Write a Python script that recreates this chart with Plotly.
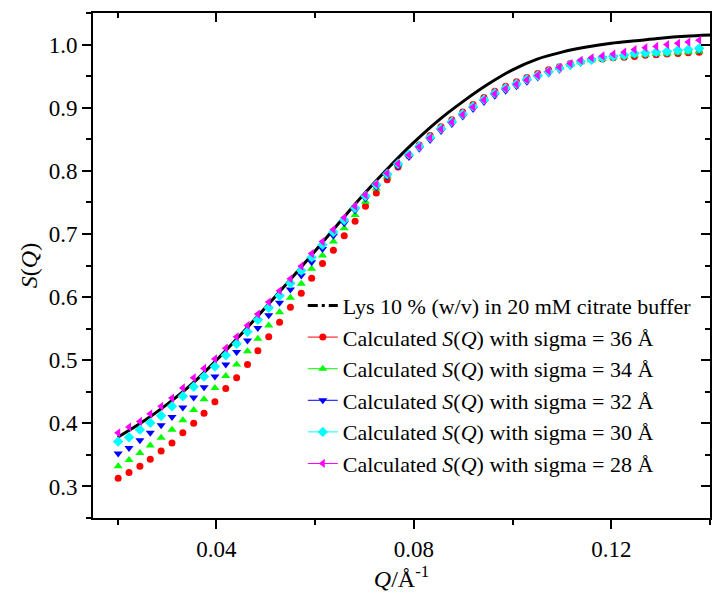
import plotly.graph_objects as go

# ---------------- data ----------------
q_exp = [0.020, 0.025, 0.030, 0.035, 0.040, 0.045, 0.050, 0.055, 0.060, 0.065,
         0.070, 0.075, 0.080, 0.085, 0.090, 0.095, 0.100, 0.105, 0.110, 0.115,
         0.120, 0.125, 0.130, 0.135, 0.140]
s_exp = [0.378, 0.402, 0.430, 0.462, 0.500, 0.541, 0.584, 0.628, 0.673, 0.719,
         0.764, 0.806, 0.845, 0.880, 0.910, 0.937, 0.960, 0.977, 0.988, 0.996,
         1.002, 1.006, 1.010, 1.013, 1.015]

q_calc = [0.0201, 0.0223, 0.0245, 0.0266, 0.0288, 0.0310, 0.0332, 0.0354, 0.0375, 0.0397,
          0.0419, 0.0441, 0.0463, 0.0484, 0.0506, 0.0528, 0.0550, 0.0572, 0.0593, 0.0615,
          0.0637, 0.0659, 0.0681, 0.0702, 0.0724, 0.0746, 0.0768, 0.0790, 0.0811, 0.0833,
          0.0855, 0.0877, 0.0899, 0.0920, 0.0942, 0.0964, 0.0986, 0.1008, 0.1029, 0.1051,
          0.1073, 0.1095, 0.1117, 0.1138, 0.1160, 0.1182, 0.1204, 0.1226, 0.1247, 0.1269,
          0.1291, 0.1313, 0.1335, 0.1356, 0.1378]

s_sigma36 = [0.313, 0.322, 0.332, 0.343, 0.356, 0.369, 0.385, 0.400, 0.416, 0.434,
             0.455, 0.472, 0.493, 0.515, 0.537, 0.560, 0.584, 0.606, 0.630, 0.653,
             0.674, 0.697, 0.720, 0.744, 0.765, 0.786, 0.806, 0.824, 0.841, 0.856,
             0.870, 0.881, 0.893, 0.905, 0.916, 0.926, 0.934, 0.941, 0.948, 0.954,
             0.960, 0.965, 0.970, 0.973, 0.976, 0.977, 0.979, 0.980, 0.981, 0.983,
             0.984, 0.985, 0.986, 0.987, 0.988]
s_sigma34 = [0.332, 0.342, 0.353, 0.365, 0.377, 0.390, 0.405, 0.421, 0.438, 0.456,
             0.475, 0.493, 0.514, 0.534, 0.555, 0.576, 0.599, 0.621, 0.645, 0.666,
             0.688, 0.709, 0.730, 0.751, 0.772, 0.791, 0.809, 0.825, 0.840, 0.854,
             0.868, 0.879, 0.891, 0.903, 0.914, 0.924, 0.932, 0.939, 0.946, 0.952,
             0.958, 0.963, 0.968, 0.972, 0.975, 0.977, 0.980, 0.981, 0.983, 0.984,
             0.985, 0.986, 0.987, 0.988, 0.989]
s_sigma32 = [0.352, 0.361, 0.373, 0.385, 0.397, 0.410, 0.425, 0.441, 0.457, 0.474,
             0.493, 0.513, 0.531, 0.551, 0.571, 0.591, 0.612, 0.634, 0.655, 0.676,
             0.697, 0.717, 0.737, 0.756, 0.774, 0.791, 0.807, 0.822, 0.835, 0.849,
             0.863, 0.874, 0.886, 0.898, 0.909, 0.919, 0.927, 0.934, 0.941, 0.948,
             0.954, 0.960, 0.966, 0.971, 0.975, 0.978, 0.980, 0.982, 0.984, 0.985,
             0.986, 0.987, 0.989, 0.990, 0.991]
s_sigma30 = [0.371, 0.378, 0.390, 0.401, 0.412, 0.427, 0.443, 0.458, 0.474, 0.490,
             0.508, 0.526, 0.545, 0.564, 0.583, 0.602, 0.622, 0.642, 0.663, 0.683,
             0.703, 0.722, 0.741, 0.760, 0.778, 0.795, 0.811, 0.826, 0.839, 0.853,
             0.867, 0.878, 0.890, 0.902, 0.913, 0.923, 0.931, 0.938, 0.945, 0.951,
             0.957, 0.963, 0.968, 0.973, 0.976, 0.979, 0.981, 0.983, 0.986, 0.987,
             0.988, 0.989, 0.991, 0.992, 0.994]
s_sigma28 = [0.385, 0.394, 0.403, 0.415, 0.427, 0.440, 0.456, 0.472, 0.487, 0.502,
             0.519, 0.537, 0.555, 0.573, 0.592, 0.610, 0.629, 0.649, 0.669, 0.688,
             0.707, 0.726, 0.744, 0.762, 0.779, 0.796, 0.811, 0.825, 0.838, 0.852,
             0.866, 0.877, 0.889, 0.901, 0.912, 0.922, 0.930, 0.937, 0.944, 0.951,
             0.958, 0.964, 0.970, 0.975, 0.979, 0.982, 0.985, 0.988, 0.992, 0.995,
             0.997, 1.000, 1.002, 1.004, 1.007]

sigma_labels = ["36", "34", "32", "30", "28"]
exp_label = "Lys 10 % (w/v) in 20 mM citrate buffer"

# ---------------- figure ----------------
FONT = "Liberation Serif"
series = [
    (sigma_labels[0], s_sigma36, "#FF0000", "circle", 7),
    (sigma_labels[1], s_sigma34, "#00FF00", "triangle-up", 8),
    (sigma_labels[2], s_sigma32, "#0000FF", "triangle-down", 8),
    (sigma_labels[3], s_sigma30, "#00FFFF", "diamond", 8),
    (sigma_labels[4], s_sigma28, "#FF00FF", "triangle-left", 8),
]

fig = go.Figure()
fig.add_trace(go.Scatter(x=q_exp, y=s_exp, mode="lines",
                         line=dict(color="black", width=3, shape="spline"),
                         showlegend=False, hoverinfo="skip"))
for lab, vals, col, sym, sz in series:
    fig.add_trace(go.Scatter(x=q_calc, y=vals, mode="markers",
                             marker=dict(symbol=sym, color=col, size=sz, line=dict(width=0)),
                             showlegend=False))

# legend entries
fig.add_trace(go.Scatter(x=[None], y=[None], mode="lines", name=exp_label,
                         line=dict(color="black", width=3, dash="10px,4px,3px,4px,10px,30px")))
for lab, vals, col, sym, sz in series:
    fig.add_trace(go.Scatter(x=[None], y=[None], mode="lines+markers",
                             name=f"Calculated <i>S</i>(<i>Q</i>) with sigma = {lab} Å",
                             line=dict(color=col, width=1),
                             marker=dict(symbol=sym, color=col, size=sz, line=dict(width=0))))

# dummy trace for mirrored (inward) ticks on top / right
fig.add_trace(go.Scatter(x=[None], y=[None], xaxis="x2", yaxis="y2",
                         showlegend=False, hoverinfo="skip"))

xr = [0.015, 0.14]
yr = [0.25, 1.05]
tickfont = dict(family=FONT, size=23, color="black")

fig.update_layout(
    width=713, height=603,
    margin=dict(l=93, r=1, t=13, b=85),
    paper_bgcolor="white", plot_bgcolor="white",
    font=dict(family=FONT, size=23, color="black"),
    xaxis=dict(range=xr, tick0=0, dtick=0.04, ticks="outside", ticklen=9, tickwidth=2,
               tickcolor="black", showline=True, linewidth=2, linecolor="black", mirror=True,
               showgrid=False, zeroline=False, tickfont=tickfont,
               minor=dict(tick0=0, dtick=0.02, ticks="outside", ticklen=5, tickwidth=2,
                          tickcolor="black", showgrid=False),
               title=dict(text="<i>Q</i>/Å<sup>-1</sup>", font=dict(family=FONT, size=24),
                          standoff=10)),
    yaxis=dict(range=yr, tick0=0, dtick=0.1, tickformat=".1f", ticks="outside", ticklen=9,
               tickwidth=2, tickcolor="black", showline=True, linewidth=2, linecolor="black",
               mirror=True, showgrid=False, zeroline=False, tickfont=tickfont,
               minor=dict(tick0=0, dtick=0.05, ticks="outside", ticklen=5, tickwidth=2,
                          tickcolor="black", showgrid=False),
               title=dict(text="<i>S</i>(<i>Q</i>)", font=dict(family=FONT, size=24),
                          standoff=4)),
    xaxis2=dict(range=xr, overlaying="x", side="top", anchor="y2", tick0=0, dtick=0.04,
                ticks="inside", ticklen=9, tickwidth=2, tickcolor="black",
                showticklabels=False, showline=False, showgrid=False, zeroline=False,
                minor=dict(tick0=0, dtick=0.02, ticks="inside", ticklen=5, tickwidth=2,
                           tickcolor="black", showgrid=False)),
    yaxis2=dict(range=yr, overlaying="y", side="right", anchor="x2", tick0=0, dtick=0.1,
                ticks="inside", ticklen=9, tickwidth=2, tickcolor="black",
                showticklabels=False, showline=False, showgrid=False, zeroline=False,
                minor=dict(tick0=0, dtick=0.05, ticks="inside", ticklen=5, tickwidth=2,
                           tickcolor="black", showgrid=False)),
    legend=dict(x=0.340, y=0.462, xanchor="left", yanchor="top",
                bgcolor="rgba(0,0,0,0)", borderwidth=0,
                font=dict(family=FONT, size=22, color="black"),
                tracegroupgap=0),
    showlegend=True,
)

fig.write_html("out.html")
